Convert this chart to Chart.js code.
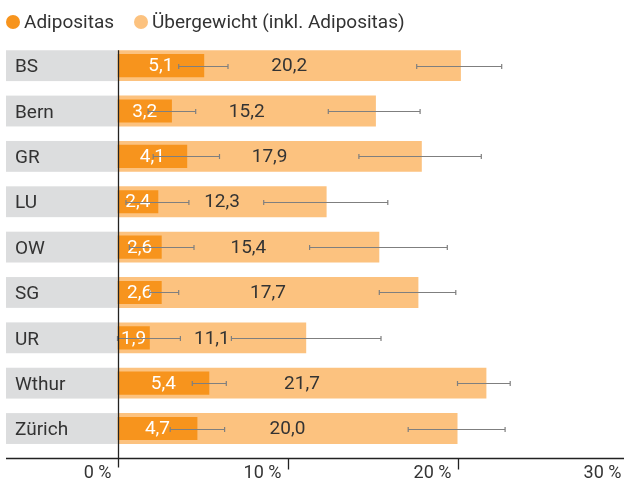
<!DOCTYPE html>
<html>
<head>
<meta charset="utf-8">
<script src="https://cdn.jsdelivr.net/npm/chart.js@4/dist/chart.umd.min.js"></script>
<style>
  body { margin: 0; overflow: hidden; background: #fff; font-family: Roboto, sans-serif; }
  #wrap { position: relative; width: 640px; height: 482px; }
  #legend { position: absolute; left: 6px; top: 10px; font-size: 19px; color: #333; white-space: nowrap; }
  #legend span.item { display: inline-block; margin-right: 20px; }
  #legend span.dot { display: inline-block; width: 14px; height: 14px; border-radius: 50%; margin-right: 4px; vertical-align: -1px; }
</style>
</head>
<body>
<div id="wrap">
  <canvas id="chart" width="640" height="482"></canvas>
  <div id="legend"></div>
</div>
<script>
// DATA
const categories = ["BS", "Bern", "GR", "LU", "OW", "SG", "UR", "Wthur", "Zürich"];
const adipositas = [5.1, 3.2, 4.1, 2.4, 2.6, 2.6, 1.9, 5.4, 4.7];
const uebergewicht = [20.2, 15.2, 17.9, 12.3, 15.4, 17.7, 11.1, 21.7, 20.0];
// confidence intervals
const adipLow = [3.6, 1.8, 2.1, 0.5, 0.7, 1.9, 0.0, 4.4, 3.1];
const adipHigh = [6.5, 4.6, 6.0, 4.2, 4.5, 3.6, 3.7, 6.4, 6.3];
const uebLow = [17.6, 12.4, 14.2, 8.6, 11.3, 15.4, 6.7, 20.0, 17.1];
const uebHigh = [22.6, 17.8, 21.4, 15.9, 19.4, 19.9, 15.5, 23.1, 22.8];
const xTicks = [0, 10, 20, 30];

const ORANGE = "#f7941d";
const LIGHT = "#fcc27f";
const GREY = "#dcddde";
const TEXT = "#333333";
const FONT = "Roboto, sans-serif";

// LEGEND (html)
const legendItems = [["Adipositas", ORANGE], ["Übergewicht (inkl. Adipositas)", LIGHT]];
document.getElementById("legend").innerHTML = legendItems.map(it =>
  '<span class="item"><span class="dot" style="background:' + it[1] + '"></span>' + it[0] + '</span>'
).join("");

function fmt(v) {
    return v.toFixed(1).replace(".", ",");
}

// grey label boxes behind the category names
const labelBoxes = {
    id: "labelBoxes",
    beforeDraw(chart) {
        const ctx = chart.ctx;
        const meta = chart.getDatasetMeta(1);
        ctx.save();
        ctx.fillStyle = GREY;
        meta.data.forEach(bar => {
            ctx.fillRect(6, bar.y - bar.height / 2, chart.chartArea.left - 6, bar.height);
        });
        ctx.restore();
    }
};

// value labels, error bars and axis lines
const overlay = {
    id: "overlay",
    afterDatasetsDraw(chart) {
        const ctx = chart.ctx;
        const x = chart.scales.x;
        const area = chart.chartArea;
        const adipMeta = chart.getDatasetMeta(0);
        const uebMeta = chart.getDatasetMeta(1);

        ctx.save();
        ctx.font = "19px " + FONT;
        ctx.textAlign = "center";
        ctx.textBaseline = "middle";
        adipMeta.data.forEach((bar, i) => {
            ctx.fillStyle = "#ffffff";
            ctx.fillText(fmt(adipositas[i]), (bar.x + bar.base) / 2, bar.y + 1);
        });
        uebMeta.data.forEach((bar, i) => {
            ctx.fillStyle = TEXT;
            ctx.fillText(fmt(uebergewicht[i]), (bar.x + bar.base) / 2, bar.y + 1);
        });

        // error bars
        ctx.strokeStyle = "#7f7f7f";
        ctx.lineWidth = 1.2;
        function errBar(lo, hi, y) {
            const x1 = x.getPixelForValue(lo), x2 = x.getPixelForValue(hi);
            ctx.beginPath();
            ctx.moveTo(x1, y); ctx.lineTo(x2, y);
            ctx.moveTo(x1, y - 2.5); ctx.lineTo(x1, y + 2.5);
            ctx.moveTo(x2, y - 2.5); ctx.lineTo(x2, y + 2.5);
            ctx.stroke();
        }
        adipMeta.data.forEach((bar, i) => errBar(adipLow[i], adipHigh[i], Math.round(bar.y) + 0.5));
        uebMeta.data.forEach((bar, i) => errBar(uebLow[i], uebHigh[i], Math.round(bar.y) + 0.5));

        // axis lines
        const first = uebMeta.data[0];
        const baseY = Math.round(area.bottom) + 7.5;
        ctx.strokeStyle = "#222";
        ctx.lineWidth = 1.3;
        ctx.beginPath();
        const x0 = Math.round(x.getPixelForValue(0)) + 0.5;
        ctx.moveTo(x0, first.y - first.height / 2);
        ctx.lineTo(x0, baseY + 9);
        ctx.moveTo(6, baseY);
        ctx.lineTo(chart.width, baseY);
        xTicks.slice(1).forEach(t => {
            const xp = Math.round(x.getPixelForValue(t)) + 0.5;
            ctx.moveTo(xp, baseY);
            ctx.lineTo(xp, baseY + 11);
        });
        ctx.stroke();
        ctx.restore();
    }
};

const chart = new Chart(document.getElementById("chart"), {
    type: "bar",
    data: {
        labels: categories,
        datasets: [{
            label: "Adipositas",
            data: adipositas,
            backgroundColor: ORANGE,
            order: 0,
            categoryPercentage: 1,
            barPercentage: 0.51
        }, {
            label: "Übergewicht (inkl. Adipositas)",
            data: uebergewicht,
            backgroundColor: LIGHT,
            order: 1,
            categoryPercentage: 1,
            barPercentage: 0.68
        }]
    },
    options: {
        indexAxis: "y",
        responsive: false,
        animation: false,
        datasets: { bar: { grouped: false } },
        layout: { padding: { top: 43, left: 15, right: 12.5, bottom: 0 } },
        plugins: {
            legend: { display: false },
            tooltip: { enabled: false }
        },
        scales: {
            x: {
                min: 0,
                max: 30,
                afterBuildTicks: scale => { scale.ticks = xTicks.map(v => ({ value: v })); },
                afterFit: scale => { scale.height = 30.8; },
                grid: { display: false },
                border: { display: false },
                ticks: {
                    callback: v => v + " %",
                    align: "end",
                    labelOffset: -6,
                    padding: 3,
                    color: TEXT,
                    font: { family: FONT, size: 18 }
                }
            },
            y: {
                afterFit: scale => { scale.width = 102.5; },
                grid: { display: false },
                border: { display: false },
                ticks: {
                    crossAlign: "far",
                    labelOffset: 2,
                    color: TEXT,
                    font: { family: FONT, size: 19 }
                }
            }
        }
    },
    plugins: [labelBoxes, overlay]
});
</script>
</body>
</html>
